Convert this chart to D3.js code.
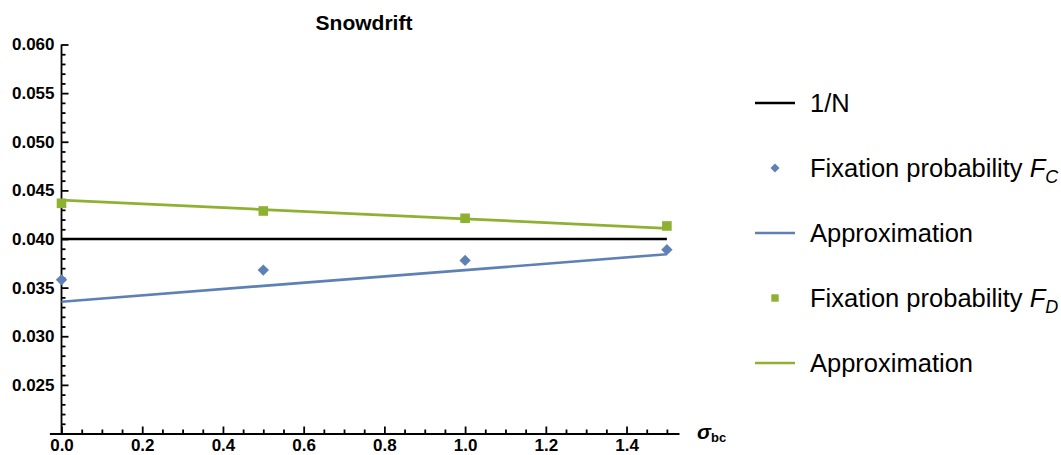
<!DOCTYPE html>
<html lang="en">
<head>
  <meta charset="UTF-8">
  <title>Snowdrift</title>
  <style>
    body {
      margin: 0;
      padding: 0;
      background-color: #fff;
    }
    svg {
      display: block;
      font-family: "Liberation Sans", Arial, sans-serif;
    }
    .axis path, .axis line {
      stroke: #000;
      stroke-width: 1.8px;
    }
    .axis text {
      font-size: 17px;
      font-weight: bold;
      fill: #000;
    }
    .legend text {
      font-size: 25.5px;
      fill: #000;
    }
  </style>
</head>
<body>
  <svg id="chart"></svg>

  <script src="https://d3js.org/d3.v7.min.js"></script>
  <script>
    const width = 1061;
    const height = 455;

    // data
    const sigma = [0, 0.5, 1.0, 1.5];
    const fixC = [0.0358, 0.0368, 0.0378, 0.0389];
    const fixD = [0.04367, 0.04288, 0.04213, 0.04134];
    const approxC = [0.03355, 0.03518, 0.03680, 0.03843];
    const approxD = [0.04400, 0.04303, 0.04207, 0.04110];
    const invN = 0.040;

    const xMajor = [0, 0.2, 0.4, 0.6, 0.8, 1.0, 1.2, 1.4];
    const yMajor = [0.025, 0.030, 0.035, 0.040, 0.045, 0.050, 0.055, 0.060];

    const blue = "#5E81B5";
    const green = "#8FB131";

    const svg = d3.select("#chart")
      .attr("width", width)
      .attr("height", height);

    const x = d3.scaleLinear().domain([-0.03, 1.53]).range([49.4, 679]);
    const y = d3.scaleLinear().domain([0.020, 0.060]).range([433.5, 44.5]);

    const x0 = x(0);
    const yBase = y(0.020);

    // minor ticks
    const xMinor = d3.range(0, 31).map(i => i * 0.05).filter(v => !xMajor.some(m => Math.abs(m - v) < 1e-9));
    const yMinor = d3.range(20, 61).map(i => i / 1000).filter(v => !yMajor.some(m => Math.abs(m - v) < 1e-9));

    svg.append("g")
      .attr("class", "axis")
      .attr("transform", `translate(0,${yBase})`)
      .call(d3.axisBottom(x).tickValues(xMinor).tickSize(-4).tickFormat(""))
      .select(".domain").remove();

    svg.append("g")
      .attr("class", "axis")
      .attr("transform", `translate(0,${yBase})`)
      .call(d3.axisBottom(x).tickValues(xMajor).tickSizeInner(-7).tickSizeOuter(0).tickPadding(5).tickFormat(d3.format(".1f")));

    svg.append("g")
      .attr("class", "axis")
      .attr("transform", `translate(${x0},0)`)
      .call(d3.axisLeft(y).tickValues(yMinor).tickSize(-4).tickFormat(""))
      .select(".domain").remove();

    const yAxis = svg.append("g")
      .attr("class", "axis")
      .attr("transform", `translate(${x0},0)`)
      .call(d3.axisLeft(y).tickValues(yMajor).tickSizeInner(-7).tickSizeOuter(0).tickPadding(7).tickFormat(d3.format(".3f")));
    yAxis.select(".domain").attr("d", `M0,${yBase}V${y(0.060)}`);

    // x axis label
    const xl = svg.append("text")
      .attr("x", 697)
      .attr("y", 439)
      .style("font-weight", "bold");
    xl.append("tspan").style("font-style", "italic").style("font-size", "21px").text("σ");
    xl.append("tspan").attr("dy", 3).style("font-size", "13px").text("bc");

    // title
    svg.append("text")
      .attr("x", 364)
      .attr("y", 30)
      .attr("text-anchor", "middle")
      .style("font-size", "21px")
      .style("font-weight", "bold")
      .text("Snowdrift");

    const line = d3.line().x(d => x(d[0])).y(d => y(d[1]));

    // 1/N line
    svg.append("path")
      .attr("d", line([[0, invN], [1.5, invN]]))
      .attr("fill", "none")
      .attr("stroke", "#000")
      .attr("stroke-width", 2.7);

    svg.append("path")
      .attr("d", line(sigma.map((s, i) => [s, approxD[i]])))
      .attr("fill", "none")
      .attr("stroke", green)
      .attr("stroke-width", 2.7);

    svg.append("path")
      .attr("d", line(sigma.map((s, i) => [s, approxC[i]])))
      .attr("fill", "none")
      .attr("stroke", blue)
      .attr("stroke-width", 2.7);

    const diamond = d3.symbol().type(d3.symbolSquare).size(64);

    svg.selectAll(".ptC")
      .data(sigma.map((s, i) => [s, fixC[i]]))
      .enter()
      .append("path")
      .attr("class", "ptC")
      .attr("d", diamond)
      .attr("transform", d => `translate(${x(d[0])},${y(d[1])}) rotate(45)`)
      .attr("fill", blue);

    svg.selectAll(".ptD")
      .data(sigma.map((s, i) => [s, fixD[i]]))
      .enter()
      .append("rect")
      .attr("class", "ptD")
      .attr("x", d => x(d[0]) - 4.8)
      .attr("y", d => y(d[1]) - 4.8)
      .attr("width", 9.6)
      .attr("height", 9.6)
      .attr("fill", green);

    // legend
    const legendItems = [
      { type: "line", color: "#000", label: "1/N" },
      { type: "diamond", color: blue, label: "Fixation probability ", sub: "C" },
      { type: "line", color: blue, label: "Approximation" },
      { type: "square", color: green, label: "Fixation probability ", sub: "D" },
      { type: "line", color: green, label: "Approximation" }
    ];

    const legend = svg.append("g").attr("class", "legend");
    legendItems.forEach((item, i) => {
      const cy = 103 + i * 65;
      const g = legend.append("g").attr("transform", `translate(0,${cy})`);
      if (item.type === "line") {
        g.append("line")
          .attr("x1", 755).attr("x2", 795)
          .attr("stroke", item.color)
          .attr("stroke-width", 2.6);
      } else if (item.type === "diamond") {
        g.append("path")
          .attr("d", d3.symbol().type(d3.symbolSquare).size(40)())
          .attr("transform", "translate(775,0) rotate(45)")
          .attr("fill", item.color);
      } else {
        g.append("rect")
          .attr("x", 771.3).attr("y", -3.7)
          .attr("width", 7.4).attr("height", 7.4)
          .attr("fill", item.color);
      }
      const t = g.append("text").attr("x", 810).attr("y", 9);
      t.append("tspan").text(item.label);
      if (item.sub) {
        t.append("tspan").style("font-style", "italic").text("F");
        t.append("tspan").attr("dy", 6).style("font-style", "italic").style("font-size", "18px").text(item.sub);
      }
    });
  </script>
</body>
</html>
